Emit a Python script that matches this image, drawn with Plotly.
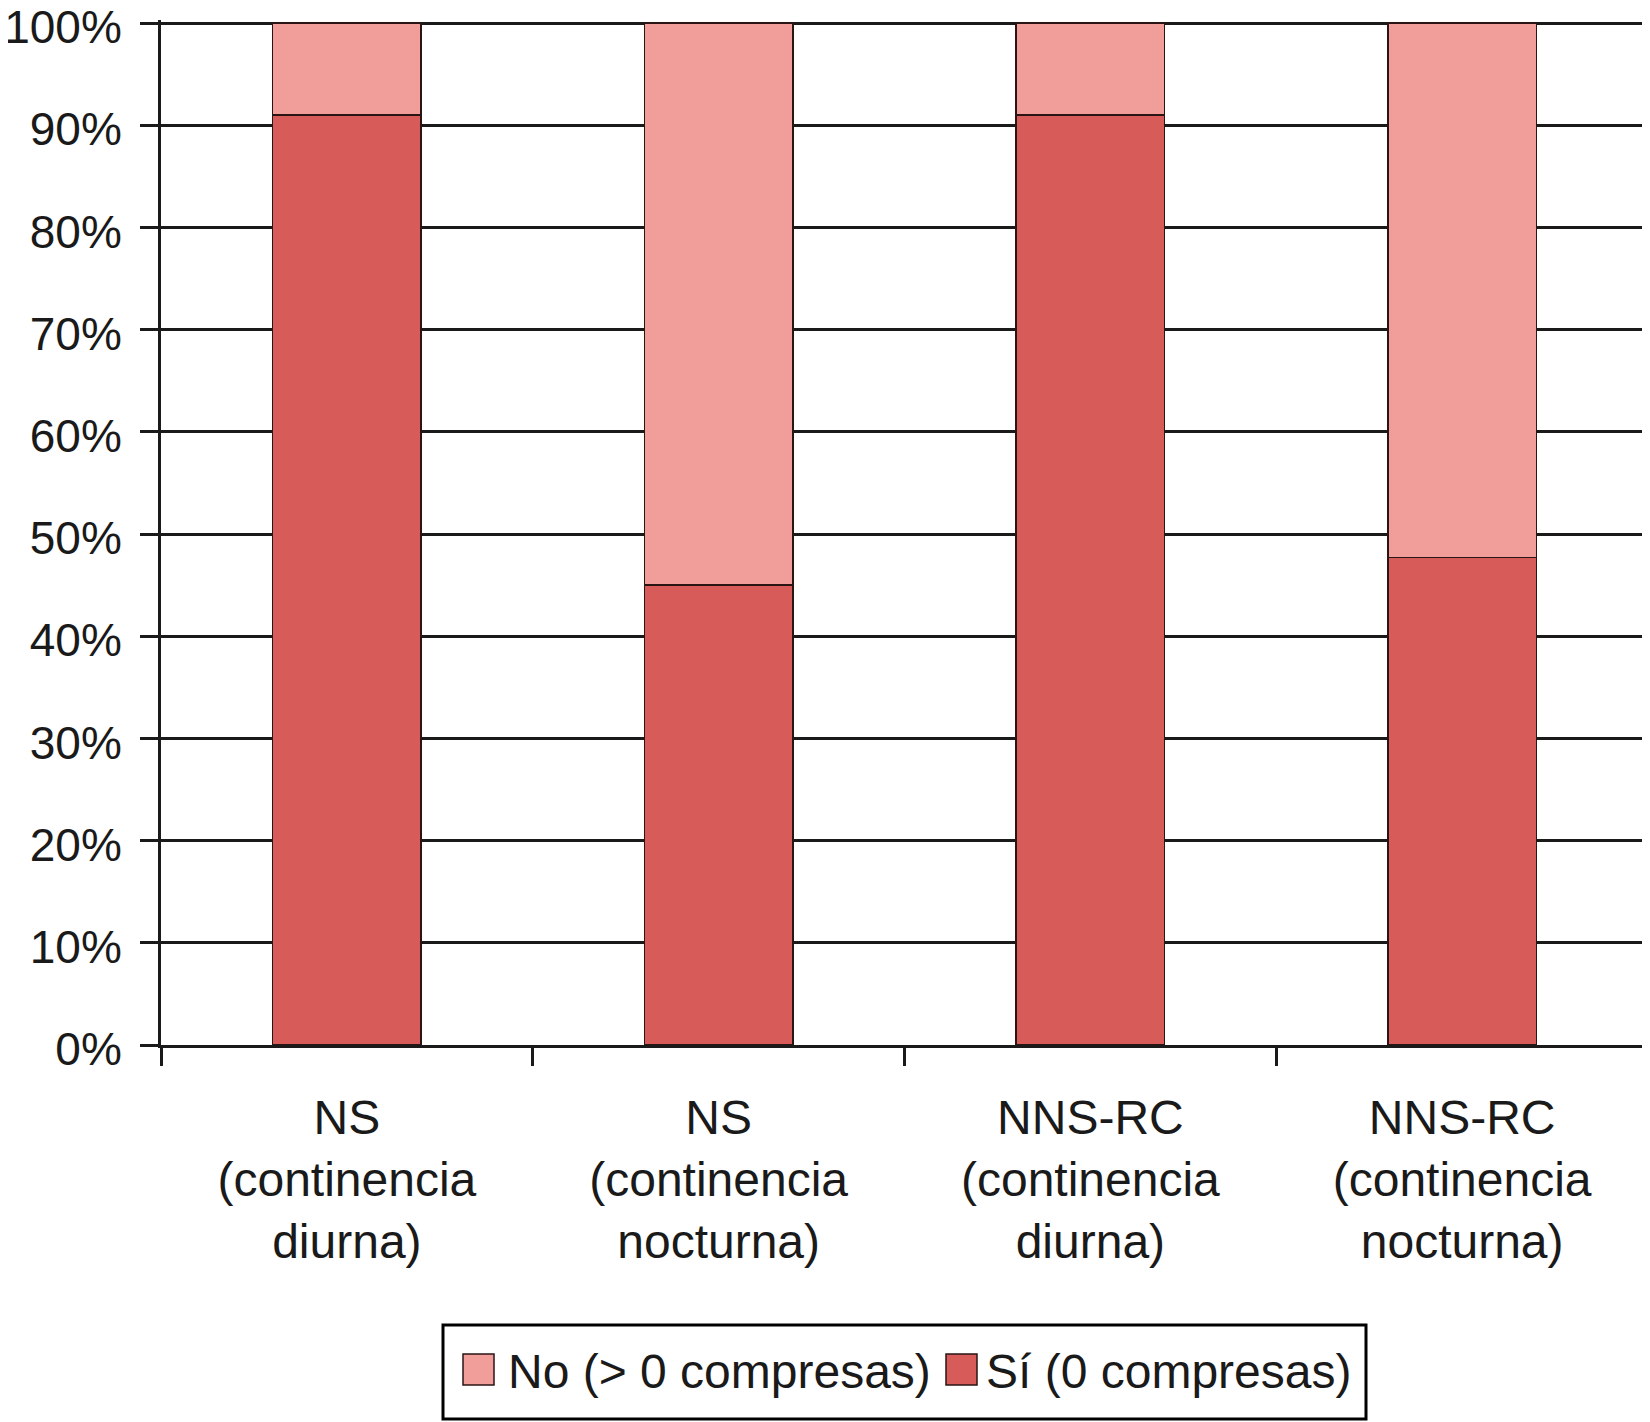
import plotly.graph_objects as go

categories = [
    "NS<br>(continencia<br>diurna)",
    "NS<br>(continencia<br>nocturna)",
    "NNS-RC<br>(continencia<br>diurna)",
    "NNS-RC<br>(continencia<br>nocturna)",
]
si_values = [91, 45, 91, 47.7]
no_values = [9, 55, 9, 52.3]
y_ticks = [0, 10, 20, 30, 40, 50, 60, 70, 80, 90, 100]
y_tick_labels = ["0%", "10%", "20%", "30%", "40%", "50%", "60%", "70%", "80%", "90%", "100%"]
legend_labels = ["No (> 0 compresas)", "Sí (0 compresas)"]

COL_SI = "#D75B58"
COL_NO = "#F19E9B"
EDGE = "#2a1414"
INK = "#1a1a1a"
FONT = "Liberation Sans, Arial, sans-serif"

# page offset (body margin) and plot area in figure pixels
OFF = 8
W, H = 1642, 1414
L, R, T, B = 153, 2, 12, 377
PW, PH = W - L - R, H - T - B


def px(x):  # reference pixel x -> paper
    return (x - OFF - L) / PW


def py(y):  # reference pixel y -> paper
    return (H - B - (y - OFF)) / PH


fig = go.Figure()
fig.add_trace(go.Bar(
    x=categories, y=si_values, name=legend_labels[1],
    marker=dict(color=COL_SI, line=dict(color=EDGE, width=1.5)),
    showlegend=False,
))
fig.add_trace(go.Bar(
    x=categories, y=no_values, name=legend_labels[0],
    marker=dict(color=COL_NO, line=dict(color=EDGE, width=1.5)),
    showlegend=False,
))

# manual legend (box, swatches, labels)
shapes = [
    dict(type="rect", xref="paper", yref="paper", x0=px(443), x1=px(1366), y0=py(1325), y1=py(1419),
         line=dict(color="black", width=3), fillcolor="white", layer="above"),
    dict(type="rect", xref="paper", yref="paper", x0=px(463), x1=px(494), y0=py(1354), y1=py(1385),
         line=dict(color=EDGE, width=1.5), fillcolor=COL_NO, layer="above"),
    dict(type="rect", xref="paper", yref="paper", x0=px(946), x1=px(977), y0=py(1354), y1=py(1385),
         line=dict(color=EDGE, width=1.5), fillcolor=COL_SI, layer="above"),
]
annotations = [
    dict(xref="paper", yref="paper", x=px(506), y=py(1371), xanchor="left", yanchor="middle",
         text=legend_labels[0], showarrow=False, font=dict(size=48, family=FONT, color=INK)),
    dict(xref="paper", yref="paper", x=px(984), y=py(1371), xanchor="left", yanchor="middle",
         text=legend_labels[1], showarrow=False, font=dict(size=48, family=FONT, color=INK)),
]

fig.update_layout(
    barmode="stack",
    bargap=0.6,
    width=W, height=H,
    margin=dict(l=L, r=R, t=T, b=B, autoexpand=False),
    plot_bgcolor="white", paper_bgcolor="white",
    font=dict(family=FONT, size=46, color=INK),
    showlegend=False,
    shapes=shapes,
    annotations=annotations,
    xaxis=dict(
        type="category",
        showline=True, linecolor=INK, linewidth=3,
        ticks="outside", tickson="boundaries", ticklen=18, tickwidth=3, tickcolor=INK,
        showgrid=False,
        ticklabelstandoff=28,
        tickfont=dict(size=48, family=FONT, color=INK),
    ),
    yaxis=dict(
        range=[0, 100.3],
        tickmode="array", tickvals=y_ticks, ticktext=y_tick_labels,
        showline=True, linecolor=INK, linewidth=3,
        ticks="outside", ticklen=18, tickwidth=3, tickcolor=INK,
        showgrid=True, gridcolor=INK, gridwidth=3,
        zeroline=False,
        ticklabelstandoff=9,
        ticklabelshift=4,
        ticklabeloverflow="allow",
        tickfont=dict(size=46, family=FONT, color=INK),
    ),
)

fig.write_html("out.html")
